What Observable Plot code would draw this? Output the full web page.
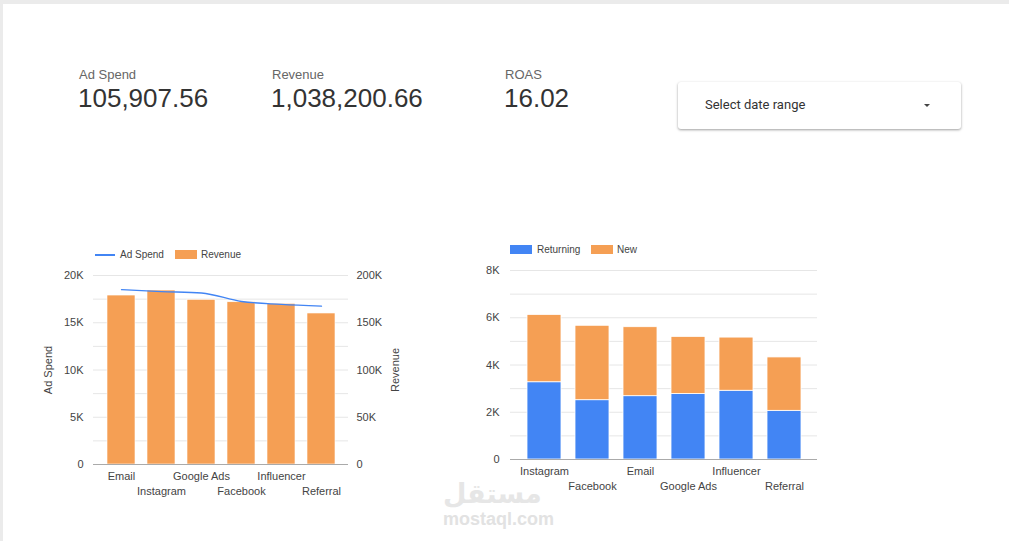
<!DOCTYPE html>
<html>
<head>
<meta charset="utf-8">
<script src="https://cdn.jsdelivr.net/npm/d3@7"></script>
<script src="https://cdn.jsdelivr.net/npm/@observablehq/plot@0.6"></script>
<style>
  html, body { margin: 0; padding: 0; }
  body { width: 1009px; height: 541px; position: relative; overflow: hidden; background: #fff;
         font-family: Arial, "Liberation Sans", sans-serif; }
  .topbar { position: absolute; left: 0; top: 0; width: 1009px; height: 4px; background: #ebebeb; }
  .leftbar { position: absolute; left: 0; top: 0; width: 3px; height: 541px; background: #ebebeb; }
  .kpi-label { position: absolute; font-size: 13px; color: #666; line-height: 16px; }
  .kpi-value { position: absolute; font-size: 26px; color: #333; line-height: 30px; }
  .dropdown { position: absolute; left: 678px; top: 82px; width: 283px; height: 47px; background: #fff;
              border-radius: 3px; box-shadow: 0 1px 3px rgba(0,0,0,0.28), 0 1px 2px rgba(0,0,0,0.12); }
  .dropdown .txt { position: absolute; left: 27px; top: 15px; font-family: Roboto, Arial, sans-serif;
              font-size: 13px; color: #333; line-height: 16px; }
  .dropdown .arrow { position: absolute; left: 246px; top: 22px; width: 0; height: 0;
              border-left: 3px solid transparent; border-right: 3px solid transparent; border-top: 3px solid #444; }
  .chart { position: absolute; }
  .legend { position: absolute; font-size: 10px; color: #444; line-height: 12px; }
  .sw { position: absolute; }
  .wm1 { position: absolute; left: 443px; top: 479px; font-family: "DejaVu Sans", sans-serif; font-size: 27px;
         font-weight: bold; color: #e6e6e6; line-height: 29px; }
  .wm2 { position: absolute; left: 443px; top: 509px; font-size: 18px; font-weight: bold; color: #e2e2e2; line-height: 20px; }
</style>
</head>
<body>
<div class="topbar"></div>
<div class="leftbar"></div>

<div class="kpi-label" style="left:79px;top:67px">Ad Spend</div>
<div class="kpi-value" style="left:78px;top:83px">105,907.56</div>
<div class="kpi-label" style="left:272px;top:67px">Revenue</div>
<div class="kpi-value" style="left:271px;top:83px">1,038,200.66</div>
<div class="kpi-label" style="left:505px;top:67px">ROAS</div>
<div class="kpi-value" style="left:504px;top:83px">16.02</div>

<div class="dropdown"><div class="txt">Select date range</div><div class="arrow"></div></div>

<div class="wm1">مستقل</div>
<div class="wm2">mostaql.com</div>

<div class="sw" style="left:95px;top:254px;width:20px;height:1.5px;background:#4285f4"></div>
<div class="legend" style="left:120px;top:249px">Ad Spend</div>
<div class="sw" style="left:175px;top:250px;width:22px;height:9px;background:#f59f54"></div>
<div class="legend" style="left:201px;top:249px">Revenue</div>

<div class="sw" style="left:510px;top:245px;width:22px;height:9px;background:#4285f4"></div>
<div class="legend" style="left:537px;top:244px">Returning</div>
<div class="sw" style="left:591px;top:245px;width:22px;height:9px;background:#f59f54"></div>
<div class="legend" style="left:617px;top:244px">New</div>

<div id="left" class="chart" style="left:30px;top:265px"></div>
<div id="right" class="chart" style="left:460px;top:260px"></div>

<script>
// ---- Left chart data: Ad Spend vs Revenue by channel ----
const channelsA = ["Email", "Instagram", "Google Ads", "Facebook", "Influencer", "Referral"];
const adSpend   = [18500, 18300, 18150, 17250, 16950, 16750];
const revenue   = [178800, 184100, 174300, 171700, 170000, 159800];
const adSpendTicks = [0, 5000, 10000, 15000, 20000];
const revenueTicks = [0, 50000, 100000, 150000, 200000];

// ---- Right chart data: Returning vs New users by channel ----
const channelsB = ["Instagram", "Facebook", "Email", "Google Ads", "Influencer", "Referral"];
const returning = [3270, 2510, 2680, 2770, 2910, 2060];
const newUsers  = [2850, 3150, 2920, 2420, 2250, 2260];
const userTicks = [0, 2000, 4000, 6000, 8000];

const BLUE = "#4285f4", ORANGE = "#f59f54";
const fmtK = v => v === 0 ? "0" : (v / 1000) + "K";
const style = {fontFamily: "Arial, 'Liberation Sans', sans-serif", fontSize: "11px", color: "#444", background: "transparent"};

// Left: revenue on y scale; ad spend shares the scale (20K <-> 200K)
const ratio = 10;
const tableA = channelsA.map((c, i) => ({channel: c, adSpend: adSpend[i], revenue: revenue[i]}));

const left = Plot.plot({
  width: 380, height: 240,
  marginLeft: 63, marginRight: 62, marginTop: 10, marginBottom: 41,
  style,
  x: {domain: channelsA, paddingInner: 0.3, paddingOuter: 0.3, axis: null},
  y: {domain: [0, 200000], axis: null},
  marks: [
    Plot.ruleY(d3.range(25000, 200001, 25000), {stroke: "#e6e6e6"}),
    Plot.barY(tableA, {x: "channel", y: "revenue", fill: ORANGE, stroke: "white", strokeWidth: 0.6}),
    Plot.ruleY([0], {stroke: "#aaa"}),
    Plot.line(tableA, {x: "channel", y: d => d.adSpend * ratio, stroke: BLUE, strokeWidth: 1.3, curve: "monotone-x"}),
    Plot.axisY(adSpendTicks.map(v => v * ratio), {anchor: "left", tickSize: 0, tickPadding: 10, tickFormat: v => fmtK(v / ratio), label: null}),
    Plot.axisY(revenueTicks, {anchor: "right", tickSize: 0, tickPadding: 8, tickFormat: fmtK, label: null}),
    Plot.text(channelsA.filter((d, i) => i % 2 === 0), {x: d => d, frameAnchor: "bottom", dy: 15}),
    Plot.text(channelsA.filter((d, i) => i % 2 === 1), {x: d => d, frameAnchor: "bottom", dy: 30}),
    Plot.text(["Ad Spend"], {frameAnchor: "left", dx: -45, rotate: -90, textAnchor: "middle"}),
    Plot.text(["Revenue"], {frameAnchor: "right", dx: 47, rotate: -90, textAnchor: "middle"})
  ]
});
document.getElementById("left").append(left);

// Right: stacked bars
const tableB = [];
channelsB.forEach((c, i) => {
  tableB.push({channel: c, type: "Returning", value: returning[i]});
  tableB.push({channel: c, type: "New", value: newUsers[i]});
});

const right = Plot.plot({
  width: 380, height: 245,
  marginLeft: 50, marginRight: 23, marginTop: 10, marginBottom: 46,
  style,
  x: {domain: channelsB, paddingInner: 0.3, paddingOuter: 0.3, axis: null},
  y: {domain: [0, 8000], axis: null},
  color: {domain: ["Returning", "New"], range: [BLUE, ORANGE]},
  marks: [
    Plot.ruleY(d3.range(1000, 8001, 1000), {stroke: "#e6e6e6"}),
    Plot.barY(tableB, {x: "channel", y: "value", fill: "type", stroke: "white", strokeWidth: 0.8}),
    Plot.ruleY([0], {stroke: "#aaa"}),
    Plot.axisY(userTicks, {anchor: "left", tickSize: 0, tickPadding: 11, tickFormat: fmtK, label: null}),
    Plot.text(channelsB.filter((d, i) => i % 2 === 0), {x: d => d, frameAnchor: "bottom", dy: 15}),
    Plot.text(channelsB.filter((d, i) => i % 2 === 1), {x: d => d, frameAnchor: "bottom", dy: 30})
  ]
});
document.getElementById("right").append(right);
</script>
</body>
</html>
